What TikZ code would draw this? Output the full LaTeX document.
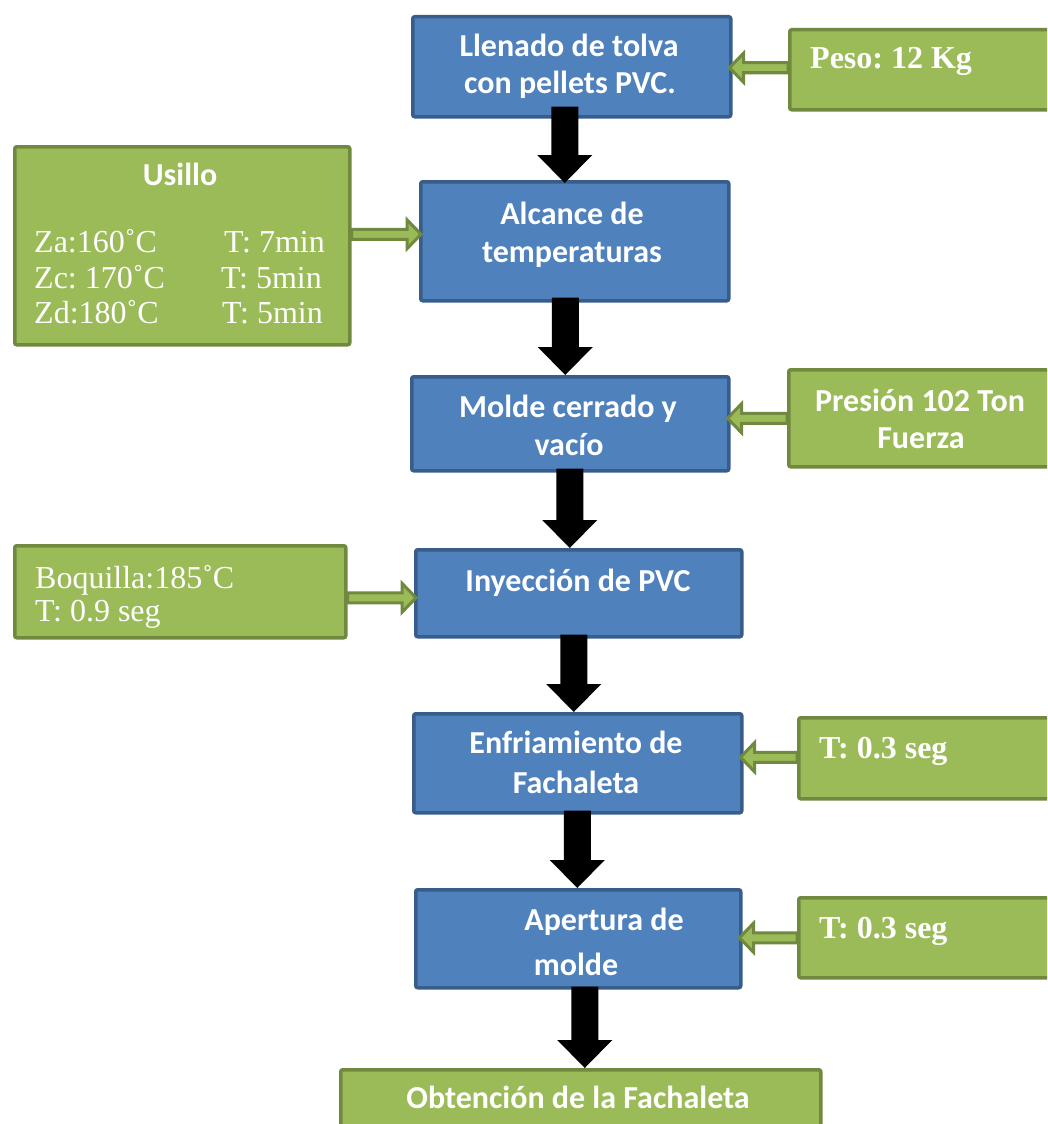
\documentclass[tikz,border=0pt]{standalone}
\usepackage{fontspec}
\setmainfont{Liberation Serif}
\newfontfamily\calibri{Carlito}
\usetikzlibrary{calc}
\definecolor{boxblue}{HTML}{4F81BD}
\definecolor{boxblueedge}{HTML}{385D8A}
\definecolor{boxgreen}{HTML}{9BBB59}
\definecolor{boxgreenedge}{HTML}{71893F}
\frenchspacing

% thick black block arrow pointing down: #1 top of shaft, #2 tip
\newcommand\flowdown[2]{%
  \fill[black] ($(#1)+(-13.5,0)$) -- ($(#2)+(-13.5,-28)$) -- ($(#2)+(-27.5,-28)$)
    -- (#2) -- ($(#2)+(27.5,-28)$) -- ($(#2)+(13.5,-28)$) -- ($(#1)+(13.5,0)$) -- cycle;}
% hollow green block arrow pointing left: #1 tail, #2 tip
\newcommand\feedleft[2]{%
  \filldraw[feedarrow] ($(#1)+(0,-5)$) -- ($(#2)+(14,-5)$) -- ($(#2)+(14,-14.5)$)
    -- (#2) -- ($(#2)+(14,14.5)$) -- ($(#2)+(14,5)$) -- ($(#1)+(0,5)$) -- cycle;}
% hollow green block arrow pointing right: #1 tail, #2 tip
\newcommand\feedright[2]{%
  \filldraw[feedarrow] ($(#1)+(0,-5)$) -- ($(#2)+(-14,-5)$) -- ($(#2)+(-14,-14.5)$)
    -- (#2) -- ($(#2)+(-14,14.5)$) -- ($(#2)+(-14,5)$) -- ($(#1)+(0,5)$) -- cycle;}

\begin{document}
\begin{tikzpicture}[x=1pt,y=-1pt,
  bluebox/.style={draw=boxblueedge, fill=boxblue, line width=3.5pt, rounded corners=2pt,
    inner sep=0pt, anchor=north west},
  greenbox/.style={draw=boxgreenedge, fill=boxgreen, line width=3.5pt, rounded corners=2pt,
    inner sep=0pt, anchor=north west},
  sanslabel/.style={font=\calibri\bfseries\fontsize{32}{38}\selectfont, text=white,
    anchor=base, inner sep=0pt},
  seriflabel/.style={font=\fontsize{32}{38}\selectfont, text=white,
    anchor=base west, inner sep=0pt},
  serifbold/.style={seriflabel, font=\bfseries\fontsize{32}{38}\selectfont},
  feedarrow/.style={draw=boxgreenedge, fill=boxgreen, line width=3pt, line join=miter}
]
\useasboundingbox (0,0) rectangle (1047,1124);
\clip (0,0) rectangle (1047,1124);

% process steps
\node[bluebox, minimum width=318, minimum height=100] (b1) at (411,15) {};
\node[bluebox, minimum width=308, minimum height=119] (b2) at (419,180) {};
\node[bluebox, minimum width=317, minimum height=94]  (b3) at (410,375) {};
\node[bluebox, minimum width=326, minimum height=87]  (b4) at (414,548) {};
\node[bluebox, minimum width=328, minimum height=99]  (b5) at (412,712) {};
\node[bluebox, minimum width=325, minimum height=98]  (b6) at (414,888) {};
\node[greenbox, minimum width=480, minimum height=90] (fin) at (339,1068) {};

% parameter boxes
\node[greenbox, minimum width=282, minimum height=80]  (g1) at (788,28) {};
\node[greenbox, minimum width=335, minimum height=198] (u)  at (13,145) {};
\node[greenbox, minimum width=283, minimum height=97]  (g3) at (787,368) {};
\node[greenbox, minimum width=331, minimum height=92]  (g4) at (13,544) {};
\node[greenbox, minimum width=273, minimum height=81]  (g5) at (797,716) {};
\node[greenbox, minimum width=273, minimum height=80]  (g6) at (797,896) {};

% step texts
\node[sanslabel] (t1a) at (569,57)  {Llenado de tolva};
\node[sanslabel] (t1b) at (570,93)  {con pellets PVC.};
\node[sanslabel] (t2a) at (572,224) {Alcance de};
\node[sanslabel] (t2b) at (572,262) {temperaturas};
\node[sanslabel] (t3a) at (568,417) {Molde cerrado y};
\node[sanslabel] (t3b) at (569,455) {vacío};
\node[sanslabel] (t4)  at (578,591) {Inyección de PVC};
\node[sanslabel] (t5a) at (576,753) {Enfriamiento de};
\node[sanslabel] (t5b) at (576,793) {Fachaleta};
\node[sanslabel] (t6a) at (604,930) {Apertura de};
\node[sanslabel] (t6b) at (576,975) {molde};
\node[sanslabel] (tf)  at (578,1108) {Obtención de la Fachaleta};

% parameter texts
\node[serifbold] (p1) at (810,68) {Peso: 12 Kg};
\node[sanslabel] (pu) at (180,185) {Usillo};
\node[seriflabel] (za) at (34,252) {Za:160˚C};
\node[seriflabel] (zc) at (34,288) {Zc: 170˚C};
\node[seriflabel] (zd) at (34,323) {Zd:180˚C};
\node[seriflabel, anchor=base east] (ta) at (325,252) {T: 7min};
\node[seriflabel, anchor=base east] (tc) at (322,288) {T: 5min};
\node[seriflabel, anchor=base east] (td) at (323,323) {T: 5min};
\node[sanslabel] (p3a) at (920,411) {Presión 102 Ton};
\node[sanslabel] (p3b) at (921,448) {Fuerza};
\node[seriflabel] (p4a) at (35,588) {Boquilla:185˚C};
\node[seriflabel] (p4b) at (35,621) {T: 0.9 seg};
\node[serifbold] (p5) at (819,758) {T: 0.3 seg};
\node[serifbold] (p6) at (819,938) {T: 0.3 seg};

% flow arrows between steps
\coordinate (s1) at ($(b1.south)+(-7,-12)$);
\coordinate (e1) at ($(s1 |- b2.north)+(0,3)$);
\flowdown{s1}{e1}
\coordinate (s2) at ($(b2.south)+(-9.5,-5)$);
\coordinate (e2) at ($(s2 |- b3.north)+(0,0)$);
\flowdown{s2}{e2}
\coordinate (s3) at ($(b3.south)+(-0.5,-4)$);
\coordinate (e3) at ($(s3 |- b4.north)+(0,0)$);
\flowdown{s3}{e3}
\coordinate (s4) at ($(b4.south)+(-5,-4)$);
\coordinate (e4) at ($(s4 |- b5.north)+(0,0)$);
\flowdown{s4}{e4}
\coordinate (s5) at ($(b5.south)+(-0.5,-4)$);
\coordinate (e5) at ($(s5 |- b6.north)+(0,0)$);
\flowdown{s5}{e5}
\coordinate (s6) at ($(b6.south)+(6.5,-3)$);
\coordinate (e6) at ($(s6 |- fin.north)+(0,0)$);
\flowdown{s6}{e6}

% feed arrows from parameter boxes
\coordinate (f1) at ($(g1.west)+(0,-2)$);
\coordinate (h1) at ($(b1.east |- f1)+(-3,0)$);
\feedleft{f1}{h1}
\coordinate (f2) at ($(u.east)+(0,-11.5)$);
\coordinate (h2) at ($(b2.west |- f2)+(2,0)$);
\feedright{f2}{h2}
\coordinate (f3) at ($(g3.west)+(0,0)$);
\coordinate (h3) at ($(b3.east |- f3)+(-3,0)$);
\feedleft{f3}{h3}
\coordinate (f4) at ($(g4.east)+(0,6)$);
\coordinate (h4) at ($(b4.west |- f4)+(2,0)$);
\feedright{f4}{h4}
\coordinate (f5) at ($(g5.west)+(0,-1)$);
\coordinate (h5) at ($(b5.east |- f5)+(-3,0)$);
\feedleft{f5}{h5}
\coordinate (f6) at ($(g6.west)+(0,0)$);
\coordinate (h6) at ($(b6.east |- f6)+(-3,0)$);
\feedleft{f6}{h6}
\end{tikzpicture}
\end{document}
